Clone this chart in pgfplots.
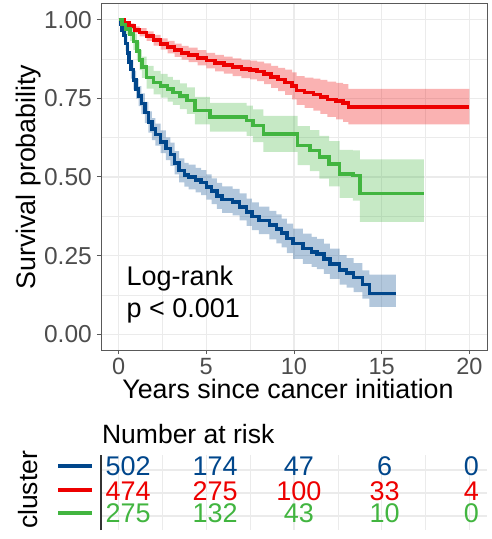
\documentclass[border=0pt]{standalone}
\usepackage{pgfplots}
\pgfplotsset{compat=1.18}
\usepackage{pgfplotstable}
\usepgfplotslibrary{fillbetween}
\usepackage{fontspec}
\setmainfont{Liberation Sans}
\definecolor{kmblue}{HTML}{00468B}
\definecolor{kmred}{HTML}{ED0000}
\definecolor{kmgreen}{HTML}{42B540}
\definecolor{gridc}{HTML}{EBEBEB}
\definecolor{borderc}{HTML}{595959}
\definecolor{tickc}{HTML}{4D4D4D}
\tikzset{rtxt/.style={anchor=center, inner sep=0pt, font=\fontsize{27bp}{27bp}\selectfont}}

\pgfplotstableread{
t S lo hi
0 1.000 1.000 1.000
0.1 0.985 0.973 0.997
0.2 0.968 0.951 0.985
0.3 0.950 0.929 0.971
0.4 0.925 0.901 0.949
0.5 0.895 0.869 0.921
0.6 0.866 0.838 0.894
0.7 0.842 0.813 0.871
0.85 0.808 0.778 0.838
1.0 0.780 0.749 0.811
1.15 0.757 0.725 0.789
1.3 0.733 0.700 0.766
1.5 0.705 0.671 0.739
1.7 0.675 0.641 0.709
1.9 0.652 0.617 0.687
2.1 0.635 0.600 0.670
2.4 0.612 0.576 0.648
2.7 0.590 0.554 0.626
2.95 0.572 0.535 0.609
3.2 0.545 0.508 0.582
3.45 0.521 0.483 0.559
3.75 0.507 0.469 0.545
4.0 0.500 0.461 0.539
4.4 0.490 0.451 0.529
4.7 0.482 0.442 0.522
5.0 0.468 0.428 0.508
5.3 0.455 0.414 0.496
5.6 0.440 0.399 0.481
5.9 0.428 0.386 0.470
6.5 0.420 0.378 0.462
6.9 0.405 0.362 0.448
7.3 0.388 0.345 0.431
7.6 0.375 0.331 0.419
8.0 0.362 0.318 0.406
8.6 0.347 0.302 0.392
9.0 0.335 0.289 0.381
9.3 0.322 0.276 0.368
9.6 0.305 0.258 0.352
9.95 0.288 0.240 0.336
10.5 0.272 0.224 0.320
11.0 0.262 0.214 0.310
11.3 0.255 0.207 0.303
11.7 0.240 0.192 0.288
12.05 0.224 0.176 0.272
12.6 0.205 0.158 0.252
13.0 0.195 0.148 0.242
13.4 0.180 0.134 0.226
13.9 0.158 0.113 0.203
14.3 0.129 0.087 0.190
15.8 0.129 0.087 0.190
}\bluedata

\pgfplotstableread{
t S lo hi
0 1.000 1.000 1.000
0.3 0.990 0.985 0.995
0.6 0.980 0.972 0.988
0.9 0.968 0.957 0.979
1.2 0.960 0.947 0.973
1.6 0.948 0.933 0.963
2.0 0.935 0.918 0.952
2.4 0.923 0.905 0.941
2.8 0.913 0.893 0.933
3.2 0.903 0.882 0.924
3.6 0.895 0.873 0.917
4.0 0.888 0.865 0.911
4.5 0.879 0.855 0.903
5.0 0.870 0.845 0.895
5.5 0.862 0.836 0.888
6.0 0.856 0.829 0.883
6.5 0.849 0.821 0.877
7.0 0.843 0.814 0.872
7.5 0.840 0.810 0.870
7.9 0.836 0.805 0.867
8.3 0.828 0.795 0.861
8.7 0.818 0.783 0.853
9.1 0.810 0.773 0.847
9.5 0.801 0.761 0.841
9.9 0.790 0.747 0.833
10.15 0.775 0.729 0.821
10.6 0.768 0.720 0.816
11.1 0.762 0.711 0.813
11.5 0.755 0.701 0.809
11.9 0.747 0.691 0.803
12.4 0.741 0.683 0.799
12.8 0.735 0.675 0.795
13.1 0.722 0.667 0.780
20.0 0.722 0.667 0.780
}\reddata

\pgfplotstableread{
t S lo hi
0 1.000 1.000 1.000
0.2 0.985 0.973 0.997
0.4 0.970 0.952 0.988
0.66 0.955 0.933 0.977
0.85 0.930 0.904 0.956
1.04 0.900 0.870 0.930
1.2 0.872 0.840 0.904
1.33 0.849 0.815 0.883
1.6 0.817 0.781 0.853
2.0 0.800 0.763 0.837
2.4 0.790 0.752 0.828
2.8 0.779 0.740 0.818
3.1 0.769 0.729 0.809
3.5 0.757 0.716 0.798
3.9 0.743 0.701 0.785
4.35 0.711 0.667 0.755
5.2 0.690 0.644 0.736
7.3 0.679 0.631 0.727
7.65 0.663 0.611 0.715
8.25 0.637 0.580 0.694
10.2 0.600 0.538 0.662
10.9 0.584 0.519 0.649
11.45 0.563 0.495 0.631
12.0 0.542 0.470 0.614
12.6 0.510 0.434 0.586
13.35 0.505 0.425 0.585
13.75 0.447 0.357 0.556
17.4 0.447 0.357 0.556
}\greendata

\begin{document}
\begin{tikzpicture}
\begin{axis}[
  at={(0bp,0bp)}, anchor=south west,
  scale only axis, width=386bp, height=346bp,
  xmin=-1, xmax=21, ymin=-0.05, ymax=1.05,
  xtick={0,5,10,15,20}, ytick={0,0.25,0.5,0.75,1},
  yticklabels={0.00,0.25,0.50,0.75,1.00},
  minor xtick={2.5,7.5,12.5,17.5},
  minor ytick={0.125,0.375,0.625,0.875},
  grid=both,
  major grid style={color=gridc, line width=1.1bp},
  minor grid style={color=gridc, line width=0.6bp},
  axis line style={color=borderc, line width=1bp},
  tick align=outside, tick pos=left,
  major tick length=4bp, minor tick length=0bp,
  every tick/.style={color=borderc, line width=1bp},
  /pgf/number format/assume math mode=true,
  ticklabel style={text=tickc},
  xticklabel style={anchor=north, inner sep=0pt, yshift=-4bp, font=\fontsize{23.5bp}{23.5bp}\selectfont},
  yticklabel style={anchor=east, inner sep=0pt, xshift=-5bp, font=\fontsize{24.5bp}{24.5bp}\selectfont},
  xlabel={Years since cancer initiation},
  ylabel={Survival probability},
  xlabel style={at={(axis description cs:0.5,0)}, anchor=base, yshift=-48bp, xshift=-6bp,
    font=\fontsize{26.8bp}{26.8bp}\selectfont, inner sep=0pt},
  ylabel style={at={(axis description cs:0,0.5)}, anchor=base, yshift=65bp,
    font=\fontsize{26.8bp}{26.8bp}\selectfont, inner sep=0pt},
]
% confidence bands
\addplot[name path=bU, draw=none, const plot, forget plot] table[x=t,y=hi]{\bluedata};
\addplot[name path=bL, draw=none, const plot, forget plot] table[x=t,y=lo]{\bluedata};
\addplot[fill=kmblue, fill opacity=0.3, draw=none, forget plot] fill between[of=bU and bL];
\addplot[name path=rU, draw=none, const plot, forget plot] table[x=t,y=hi]{\reddata};
\addplot[name path=rL, draw=none, const plot, forget plot] table[x=t,y=lo]{\reddata};
\addplot[fill=kmred, fill opacity=0.3, draw=none, forget plot] fill between[of=rU and rL];
\addplot[name path=gU, draw=none, const plot, forget plot] table[x=t,y=hi]{\greendata};
\addplot[name path=gL, draw=none, const plot, forget plot] table[x=t,y=lo]{\greendata};
\addplot[fill=kmgreen, fill opacity=0.3, draw=none, forget plot] fill between[of=gU and gL];
% survival curves
\addplot[const plot, kmblue, line width=3.5bp, no marks] table[x=t,y=S]{\bluedata};
\addplot[const plot, kmred, line width=3.5bp, no marks] table[x=t,y=S]{\reddata};
\addplot[const plot, kmgreen, line width=3.5bp, no marks] table[x=t,y=S]{\greendata};
\node[anchor=base west, inner sep=0pt, font=\fontsize{27bp}{27bp}\selectfont] at (axis cs:0.45,0.1556) {Log-rank};
\node[anchor=base west, inner sep=0pt, font=\fontsize{27bp}{27bp}\selectfont] at (axis cs:0.45,0.054) {p < 0.001};
\end{axis}

\begin{axis}[
  at={(0bp,-180bp)}, anchor=south west,
  scale only axis, width=386bp, height=75bp,
  xmin=-1, xmax=21, ymin=0.39, ymax=3.65,
  clip=false,
  xtick={0,5,10,15,20}, minor xtick={2.5,7.5,12.5,17.5},
  ytick={1,2,3},
  xticklabels={}, yticklabels={},
  grid=both,
  major grid style={color=gridc, line width=1.1bp},
  minor grid style={color=gridc, line width=0.6bp},
  axis lines*=left,
  x axis line style={draw=none},
  y axis line style={color=black!80, line width=1.2bp},
  major tick length=0bp, minor tick length=0bp,
]
\addplot[kmblue, line width=4bp, no marks] coordinates {(-3.43,3.17) (-1.5,3.17)};
\addplot[kmred, line width=4bp, no marks] coordinates {(-3.43,2.13) (-1.5,2.13)};
\addplot[kmgreen, line width=4bp, no marks] coordinates {(-3.43,1.13) (-1.5,1.13)};
\node[anchor=base west, inner sep=0pt, font=\fontsize{26.5bp}{26.5bp}\selectfont] at (axis cs:-0.95,4.16) {Number at risk};
\node[anchor=base, rotate=90, inner sep=0pt, font=\fontsize{26.5bp}{26.5bp}\selectfont] at (axis cs:-4.62,2.13) {cluster};
\node[rtxt, text=kmblue] at (axis cs:0.55,3.15) {502};
\node[rtxt, text=kmblue] at (axis cs:5.5,3.15) {174};
\node[rtxt, text=kmblue] at (axis cs:10.28,3.15) {47};
\node[rtxt, text=kmblue] at (axis cs:15.17,3.15) {6};
\node[rtxt, text=kmblue] at (axis cs:20.11,3.15) {0};
\node[rtxt, text=kmred] at (axis cs:0.55,2.06) {474};
\node[rtxt, text=kmred] at (axis cs:5.5,2.06) {275};
\node[rtxt, text=kmred] at (axis cs:10.28,2.06) {100};
\node[rtxt, text=kmred] at (axis cs:15.17,2.06) {33};
\node[rtxt, text=kmred] at (axis cs:20.11,2.06) {4};
\node[rtxt, text=kmgreen] at (axis cs:0.55,1.13) {275};
\node[rtxt, text=kmgreen] at (axis cs:5.5,1.13) {132};
\node[rtxt, text=kmgreen] at (axis cs:10.28,1.13) {43};
\node[rtxt, text=kmgreen] at (axis cs:15.17,1.13) {10};
\node[rtxt, text=kmgreen] at (axis cs:20.11,1.13) {0};
\end{axis}
\pgfresetboundingbox
\path[use as bounding box] (-101bp,-189bp) rectangle (391bp,350bp);
\end{tikzpicture}
\end{document}
